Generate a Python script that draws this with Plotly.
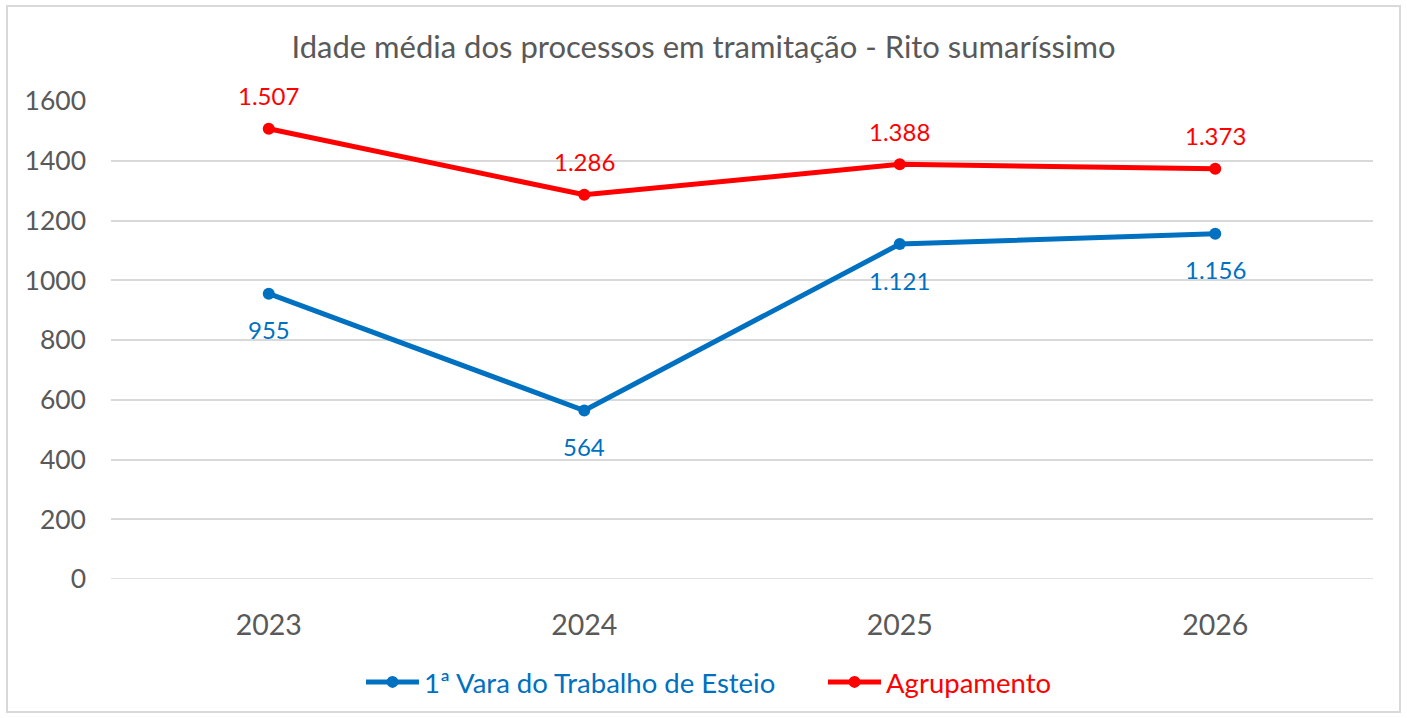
import plotly.graph_objects as go

years = ["2023", "2024", "2025", "2026"]
vara = [955, 564, 1121, 1156]
agrup = [1507, 1286, 1388, 1373]
y_ticks = [0, 200, 400, 600, 800, 1000, 1200, 1400, 1600]

BLUE = "#0070C0"
RED = "#FF0000"
FONT = "Lato, 'Open Sans', sans-serif"

def fmt(v):
    return f"{v:,}".replace(",", ".")

fig = go.Figure()
fig.add_trace(go.Scatter(
    x=years, y=vara, mode="lines+markers",
    name=f"<span style='color:{BLUE}'>1ª Vara do Trabalho de Esteio</span>",
    line=dict(color=BLUE, width=5), marker=dict(size=12, color=BLUE),
))
fig.add_trace(go.Scatter(
    x=years, y=agrup, mode="lines+markers",
    name=f"<span style='color:{RED}'>Agrupamento</span>",
    line=dict(color=RED, width=5), marker=dict(size=12, color=RED),
))

for i, v in enumerate(vara):
    fig.add_annotation(x=i, y=v, xref="x", yref="y", text=fmt(v), showarrow=False,
                       yshift=-36, font=dict(color=BLUE, size=24, family=FONT))
for i, v in enumerate(agrup):
    fig.add_annotation(x=i, y=v, xref="x", yref="y", text=fmt(v), showarrow=False,
                       yshift=33, font=dict(color=RED, size=24, family=FONT))

fig.update_layout(
    width=1407, height=718,
    margin=dict(l=111, r=34, t=101, b=139),
    paper_bgcolor="white", plot_bgcolor="white",
    font=dict(family=FONT, color="#595959"),
    title=dict(text="Idade média dos processos em tramitação - Rito sumaríssimo",
               x=0.5, xanchor="center", y=1 - 47 / 718, yanchor="middle",
               font=dict(size=31, color="#595959", family=FONT)),
    xaxis=dict(type="category", range=[-0.5, 3.5], showgrid=False,
               showline=False, ticks="", tickfont=dict(size=28.5, color="#595959"),
               zeroline=False, ticklabelstandoff=26),
    yaxis=dict(range=[0, 1600], tickvals=y_ticks, showgrid=True,
               gridcolor="#D9D9D9", gridwidth=1.5, zeroline=False,
               showline=False, ticks="", tickfont=dict(size=26.5, color="#595959"),
               ticklabelstandoff=24),
    legend=dict(orientation="h", x=(367 - 111 - 6) / 1262, xanchor="left",
                y=-(682 - 579) / 478, yanchor="middle", font=dict(size=27.5, family=FONT),
                itemwidth=53, traceorder="normal", tracegroupgap=0,
                entrywidth=394, entrywidthmode="pixels"),
    showlegend=True,
    shapes=[dict(type="rect", xref="paper", yref="paper",
                 x0=-(111 - 7) / 1262, x1=1 + (1400 - 1373) / 1262,
                 y0=-(712 - 579) / 478, y1=1 + (101 - 6) / 478,
                 line=dict(color="#D9D9D9", width=2), layer="below"),
            dict(type="line", xref="paper", yref="y", x0=0, x1=1, y0=0, y1=0,
                 line=dict(color="#D9D9D9", width=1.5))],
)

fig.write_html("out.html", config={"displayModeBar": False},
               post_script="document.body.style.margin='0';document.body.style.overflow='hidden';")
